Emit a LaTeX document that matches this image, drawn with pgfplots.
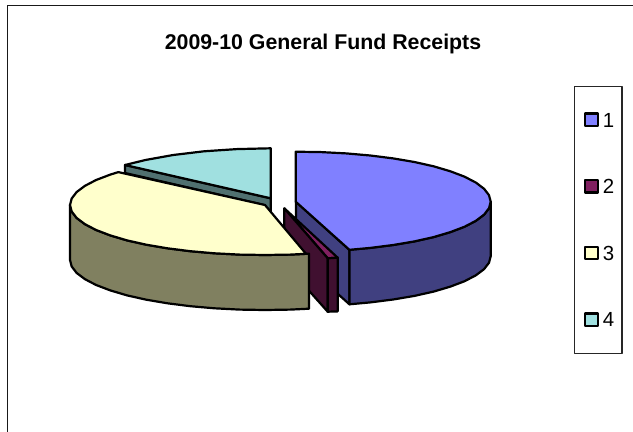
\documentclass[border=0pt]{standalone}
\usepackage{fontspec}
\setmainfont{Liberation Sans}
\usepackage{pgfplots}
\pgfplotsset{compat=1.18}
\definecolor{blueT}{HTML}{8080FF}
\definecolor{blueS}{HTML}{404080}
\definecolor{marT}{HTML}{802060}
\definecolor{marS}{HTML}{401030}
\definecolor{yelT}{HTML}{FFFFCC}
\definecolor{yelS}{HTML}{808060}
\definecolor{teaT}{HTML}{A0E0E0}
\definecolor{teaS}{HTML}{507070}
\begin{document}
\begin{tikzpicture}
\begin{axis}[
  width=633bp,height=432bp,scale only axis,
  xmin=0,xmax=633,ymin=0,ymax=432,y dir=reverse,
  axis lines=none,
  every axis plot/.append style={mark=none,line join=round,line width=2.2bp,draw=black},
]
% page area
\addplot[draw=none,fill=white,line width=0pt] coordinates {(0,0)(633,0)(633,432)(0,432)} -- cycle;
% outer frame
\addplot[line width=1.6bp,draw=black!90] coordinates {(7.6,432)(7.6,5.5)(633,5.5)};
% slice 4 (teal)
\addplot[fill=teaS] coordinates {(125,165)(270.7,198.3)(270.7,212.5)(264,205)(125,173)} -- cycle;
\addplot[fill=teaT] coordinates {(270.7,198.3)(270.7,148.3)(236.8,149.1)(204,151.3)(173.2,155)(145.4,160)(125,165)} -- cycle;
% slice 1 (blue)
\addplot[fill=blueS] coordinates {(296,201.7)(349.4,249.8)(349.4,304.3)(296,256.2)} -- cycle;
\addplot[fill=blueS] coordinates {(490.7,201.7)(489.0,208.2)(484.1,214.6)(475.9,220.8)(464.6,226.7)(450.4,232.1)(433.6,237.1)(414.4,241.4)(393.2,245.0)(370.3,247.9)(349.4,249.8)
  (349.4,304.3)(370.3,302.4)(393.2,299.5)(414.4,295.9)(433.6,291.6)(450.4,286.6)(464.6,281.2)(475.9,275.3)(484.1,269.1)(489.0,262.7)(490.7,256.2)} -- cycle;
\addplot[fill=blueT] coordinates {(295.7,201.7)(295.7,151.7)(321.1,152.1)(346.2,153.4)(370.3,155.5)(393.2,158.4)(414.4,162.0)(433.6,166.3)(450.4,171.3)(464.6,176.7)(475.9,182.6)(484.1,188.8)(489.0,195.2)(490.7,201.7)
  (489.0,208.2)(484.1,214.6)(475.9,220.8)(464.6,226.7)(450.4,232.1)(433.6,237.1)(414.4,241.4)(393.2,245.0)(370.3,247.9)(349.4,249.8)} -- cycle;
% slice 2 (maroon)
\addplot[fill=marT] coordinates {(284.3,208.3)(337.7,257.7)(327.7,258.3)} -- cycle;
\addplot[fill=marS] coordinates {(284.3,208.3)(327.7,258.3)(327.7,311.7)(284.3,263)} -- cycle;
\addplot[fill=marS] coordinates {(327.7,258.3)(337.7,257.7)(337.7,311.4)(327.7,311.7)} -- cycle;
% slice 3 (yellow)
\addplot[fill=yelS] coordinates {(70,205)(71.7,211.5)(76.6,217.9)(84.8,224.1)(96.1,230)(110.3,235.4)(127.1,240.4)(146.3,244.7)(167.5,248.3)(190.4,251.2)(214.5,253.3)(239.6,254.6)(265,255)(290.4,254.6)(309,253.7)
  (309,308.7)(290.4,309.6)(265,310)(239.6,309.6)(214.5,308.3)(190.4,306.2)(167.5,303.3)(146.3,299.7)(127.1,295.4)(110.3,290.4)(96.1,285)(84.8,279.1)(76.6,272.9)(71.7,266.5)(70,260)} -- cycle;
\addplot[fill=yelT] coordinates {(265,205)(118.3,172.1)(110.3,174.6)(96.1,180)(84.8,185.9)(76.6,192.1)(71.7,198.5)(70,205)(71.7,211.5)(76.6,217.9)(84.8,224.1)(96.1,230)(110.3,235.4)(127.1,240.4)(146.3,244.7)(167.5,248.3)(190.4,251.2)(214.5,253.3)(239.6,254.6)(265,255)(290.4,254.6)(306,253.8)} -- cycle;
% legend
\addplot[line width=1.1bp,draw=black!85] coordinates {(574.4,86.8)(622,86.8)(622,353.2)(574.4,353.2)} -- cycle;
\addplot[fill=blueT] coordinates {(584.9,113.5)(597.8,113.5)(597.8,125.9)(584.9,125.9)} -- cycle;
\addplot[fill=marT] coordinates {(584.9,180.1)(597.8,180.1)(597.8,192.5)(584.9,192.5)} -- cycle;
\addplot[fill=yelT] coordinates {(584.9,246.8)(597.8,246.8)(597.8,259.2)(584.9,259.2)} -- cycle;
\addplot[fill=teaT] coordinates {(584.9,313.5)(597.8,313.5)(597.8,325.9)(584.9,325.9)} -- cycle;
\node[anchor=base west,inner sep=0pt,font=\fontsize{20.5}{23}\selectfont] at (axis cs:602.7,127.3) {1};
\node[anchor=base west,inner sep=0pt,font=\fontsize{20.5}{23}\selectfont] at (axis cs:602.7,193.5) {2};
\node[anchor=base west,inner sep=0pt,font=\fontsize{20.5}{23}\selectfont] at (axis cs:602.7,260.5) {3};
\node[anchor=base west,inner sep=0pt,font=\fontsize{20.5}{23}\selectfont] at (axis cs:602.7,326.7) {4};
\node[anchor=base,inner sep=0pt,font=\fontsize{21.4}{24}\selectfont\bfseries] at (axis cs:323,50) {2009-10 General Fund Receipts};
\end{axis}
\end{tikzpicture}
\end{document}
